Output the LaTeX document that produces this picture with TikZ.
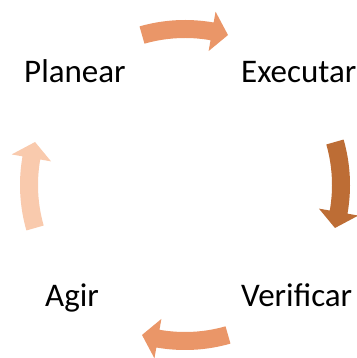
\documentclass[tikz,border=0pt]{standalone}
\definecolor{myOrange}{RGB}{234,150,104}
\definecolor{myBrown}{RGB}{189,109,53}
\definecolor{myPeach}{RGB}{249,202,173}
\usepackage{fontspec}
\setmainfont{Carlito}
\usepackage{tikz}
\usetikzlibrary{positioning}

\tikzset{lbl/.style={inner sep=0pt, anchor=base west, font=\fontsize{33}{39}\selectfont}}

\begin{document}
\begin{tikzpicture}[x=1pt,y=1pt]
                \useasboundingbox (-185,-173) rectangle (171,185);
                \coordinate (c) at (0,0);

                \node[lbl] (planear) at (-161,102) {Planear};
                \node[lbl] (executar) at (56,102) {Executar};
                \node[lbl] (agir) at (-140,-121) {Agir};
                \node[lbl] (verificar) at (56,-121) {Verificar};

                % top: Planear -> Executar
                \fill[myOrange] (106:147) arc[start angle=106, end angle=80, radius=147] -- (80:136) -- (74:156) -- (80:176) -- (80:165) arc[start angle=80, end angle=106, radius=165] -- cycle;
                % right: Executar -> Verificar
                \fill[myBrown] (16:147) arc[start angle=16, end angle=-10, radius=147] -- (-10:136) -- (-16:156) -- (-10:176) -- (-10:165) arc[start angle=-10, end angle=16, radius=165] -- cycle;
                % bottom: Verificar -> Agir
                \fill[myOrange] (286:147) arc[start angle=286, end angle=260, radius=147] -- (260:136) -- (254:156) -- (260:176) -- (260:165) arc[start angle=260, end angle=286, radius=165] -- cycle;
                % left: Agir -> Planear
                \fill[myPeach] (196:147) arc[start angle=196, end angle=170, radius=147] -- (170:136) -- (164:156) -- (170:176) -- (170:165) arc[start angle=170, end angle=196, radius=165] -- cycle;
\end{tikzpicture}
\end{document}
